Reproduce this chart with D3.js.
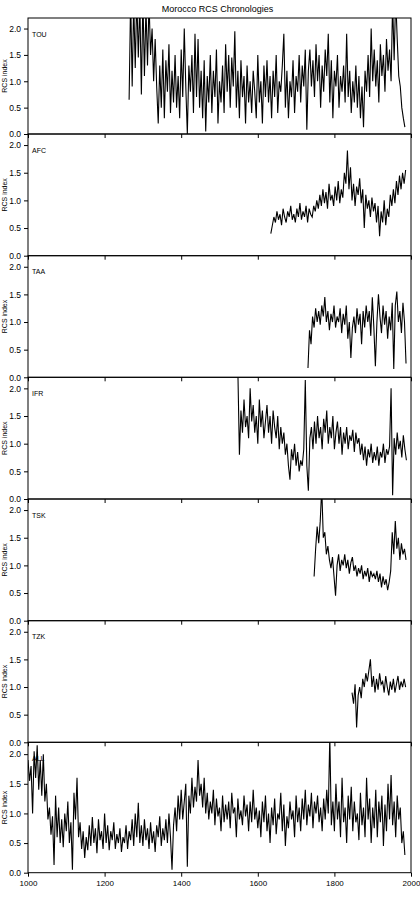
<!DOCTYPE html>
<html>
<head>
<meta charset="utf-8">
<script src="https://cdn.jsdelivr.net/npm/d3@7/dist/d3.min.js"></script>
<style>
  html, body { margin: 0; padding: 0; background: #fff; }
  svg { display: block; font-family: "Liberation Sans", Arial, sans-serif; }
</style>
</head>
<body>
<div id="chart"></div>
<script>
// Morocco RCS chronologies (4-year steps)
const siteNames = ['TOU', 'AFC', 'TAA', 'IFR', 'TSK', 'TZK', 'ALL'];
const startYears = [1264, 1634, 1731, 1548, 1747, 1846, 1000];
const yearStep = 4;
const xTicks = [1000, 1200, 1400, 1600, 1800, 2000];
const yTicks = [0, 0.5, 1.0, 1.5, 2.0];

const touValues = [
  0.65, 2.6, 0.9, 2.5, 1.25, 2.6, 1.45, 2.5, 0.75, 2.6,
  1.1, 2.4, 1.3, 2.5, 1.5, 2.0, 1.0, 1.8, 0.9, 0.2,
  1.3, 0.5, 1.6, 0.3, 1.4, 0.8, 1.7, 0.4, 1.2, 0.6,
  1.5, 0.5, 1.1, 0.3, 1.6, 0.7, 2.0, 0.9, 0.0, 1.3,
  0.8, 1.5, 0.4, 1.9, 0.7, 1.8, 0.5, 1.2, 0.3, 1.4,
  0.05, 1.1, 0.6, 1.5, 0.4, 1.2, 0.7, 1.6, 0.2, 1.0,
  0.6, 1.3, 0.4, 1.7, 0.8, 1.5, 0.5, 1.45, 0.9, 1.95,
  0.5, 1.2, 0.3, 1.4, 0.7, 1.1, 0.2, 1.3, 0.6, 1.0,
  0.4, 1.2, 0.8, 0.3, 1.5, 0.6, 1.0, 0.2, 1.3, 0.7,
  1.4, 0.6, 1.1, 0.3, 1.2, 0.7, 1.5, 0.4, 1.0, 0.8,
  1.3, 1.9, 0.5, 1.2, 0.3, 1.0, 0.7, 1.4, 0.4, 1.1,
  0.8, 1.5, 0.6, 1.3, 0.9, 1.6, 0.08, 1.2, 1.6, 0.9,
  1.4, 0.7, 1.7, 1.0, 1.5, 0.5, 1.3, 0.8, 1.6, 1.1,
  1.9, 0.6, 1.4, 0.3, 1.2, 0.9, 1.5, 0.5, 1.1, 0.8,
  1.3, 0.6, 1.9, 0.7, 1.2, 0.4, 1.0, 0.6, 1.3, 0.5,
  1.1, 0.3, 0.9, 0.13, 1.2, 0.8, 1.5, 0.7, 2.0, 1.0,
  1.6, 0.9, 1.4, 0.6, 1.7, 1.1, 1.5, 0.8, 1.8, 1.2,
  1.6, 1.0, 2.5, 1.4, 2.6, 1.8, 1.1, 0.9, 0.5, 0.3,
  0.13
];
const afcValues = [
  0.4, 0.55, 0.7, 0.6, 0.8, 0.65, 0.75, 0.55, 0.85, 0.7,
  0.6, 0.8, 0.7, 0.9, 0.65, 0.75, 0.6, 0.85, 0.7, 0.95,
  0.65, 0.8, 0.7, 0.9, 0.6, 0.85, 0.75, 0.7, 0.9, 0.8,
  1.0, 0.85, 1.1, 0.9, 1.2, 0.95, 1.15, 0.85, 1.3, 1.0,
  1.1, 0.9, 1.25, 1.0, 1.35, 0.95, 1.2, 1.05, 1.5, 1.3,
  1.9, 1.2, 1.6, 1.0, 1.3, 0.9, 1.25, 1.1, 1.4, 0.95,
  1.2, 0.5, 1.1, 0.85, 1.0, 0.7, 1.05, 0.8, 0.95, 0.6,
  0.9, 0.35, 0.8, 0.6, 1.0, 0.55, 0.85, 0.7, 1.1, 0.9,
  1.2, 0.95, 1.35, 1.1, 1.45, 1.2, 1.5, 1.3, 1.55
];
const taaValues = [
  0.17, 0.85, 0.6, 1.1, 0.9, 1.25, 1.0, 1.2, 0.95, 1.3,
  1.1, 1.45, 1.0, 1.2, 0.85, 1.15, 1.0, 1.3, 0.9, 1.1,
  1.0, 1.25, 0.8, 1.15, 0.95, 1.3, 0.7, 1.0, 0.35, 0.9,
  1.1, 0.8, 1.25, 0.95, 1.15, 0.6, 1.2, 0.9, 1.3, 1.0,
  1.2, 0.75, 1.45, 0.9, 0.2, 1.0, 1.5, 1.1, 0.8, 1.3,
  0.95, 1.2, 0.7, 1.1, 0.85, 1.35, 0.15, 1.3, 1.55, 1.0,
  1.2, 0.8, 1.35, 1.0, 0.25
];
const ifrValues = [
  2.3, 0.8, 1.6, 1.2, 1.8, 1.3, 1.5, 1.1, 2.0, 1.4,
  1.7, 1.2, 1.5, 1.0, 1.8, 1.3, 1.6, 1.1, 1.4, 1.7,
  1.2, 1.5, 1.0, 1.6, 1.3, 1.1, 1.5, 0.9, 1.3, 1.0,
  1.2, 0.8, 1.0, 0.6, 0.35, 0.9, 0.7, 1.0, 0.6, 0.85,
  0.5, 0.7, 0.6, 0.9, 2.15, 0.6, 0.15, 1.1, 1.3, 0.9,
  1.4, 1.0, 1.5, 1.1, 1.3, 0.9, 1.45, 1.2, 1.6, 1.0,
  1.3, 1.1, 1.5, 0.9, 1.2, 1.4, 1.0, 1.3, 0.8, 1.2,
  1.0, 1.3, 0.9, 1.15, 1.05, 1.25, 0.85, 1.2, 1.0, 1.1,
  0.8, 1.0, 0.7, 0.95, 0.6, 0.9, 0.75, 1.0, 0.65, 0.85,
  0.7, 0.95, 0.6, 0.85, 0.75, 1.0, 0.65, 0.9, 0.8, 0.95,
  2.0, 0.07, 1.1, 0.8, 1.2, 0.9, 1.05, 0.75, 1.15, 0.9,
  0.7
];
const tskValues = [
  0.8, 1.3, 1.7, 1.4, 1.8, 2.4, 1.5, 1.6, 1.2, 1.35,
  1.1, 0.95, 1.15, 0.8, 0.45, 1.0, 1.2, 0.9, 1.1, 1.0,
  1.2, 0.95, 1.1, 0.85, 1.05, 1.15, 0.9, 1.0, 0.8, 0.95,
  0.85, 1.0, 0.75, 0.9, 0.8, 0.95, 0.7, 0.9, 0.8, 0.85,
  0.75, 0.9, 0.7, 0.85, 0.6, 0.8, 0.65, 0.75, 0.55, 0.7,
  0.9, 1.6, 1.2, 1.8, 1.3, 1.5, 1.1, 1.4, 1.2, 1.3,
  1.1
];
const tzkValues = [
  0.9, 0.7, 1.05, 0.27, 0.85, 1.0, 0.8, 1.15, 1.0, 1.25,
  1.1, 1.3, 1.5, 1.0, 1.2, 0.9, 1.15, 0.95, 1.25, 1.05,
  1.1, 0.9, 1.2, 1.0, 0.85, 1.1, 0.95, 1.15, 0.9, 1.05,
  1.2, 0.95, 1.1, 1.0, 1.15, 1.0
];
const allValues = [
  1.9, 1.55, 1.8, 1.0, 2.05, 1.6, 2.15, 1.4, 1.9, 1.3,
  2.0, 1.2, 1.5, 0.9, 1.1, 0.64, 0.95, 0.13, 1.3, 0.6,
  1.1, 0.5, 0.9, 0.43, 1.0, 0.7, 1.2, 0.5, 0.85, 0.05,
  1.35, 0.9, 1.6, 0.6, 0.85, 0.4, 0.7, 0.25, 0.6, 0.38,
  0.8, 0.45, 0.94, 0.5, 0.75, 0.33, 0.9, 0.55, 0.7, 0.4,
  1.0, 0.5, 0.8, 0.38, 0.7, 0.55, 0.85, 0.4, 0.65, 0.5,
  0.75, 0.35, 0.6, 0.5, 0.8, 0.4, 0.7, 0.55, 0.9, 0.45,
  1.0, 0.6, 1.18, 0.5, 0.8, 0.45, 0.9, 0.55, 0.75, 0.4,
  0.85, 0.5, 0.7, 0.35, 0.8, 0.6, 0.95, 0.45, 0.75, 0.55,
  0.9, 0.5, 1.0, 0.6, 0.05, 0.8, 1.1, 0.7, 1.3, 0.9,
  1.4, 0.9, 1.2, 1.5, 0.1, 1.3, 1.0, 1.6, 1.1, 1.45,
  1.2, 1.9, 1.3, 1.5, 1.1, 1.6, 1.0, 1.35, 0.9, 1.2,
  1.0, 1.4, 0.8, 1.25, 0.95, 1.1, 0.7, 1.3, 0.85, 1.15,
  0.9, 1.2, 0.75, 1.35, 1.0, 1.1, 0.6, 1.25, 0.9, 1.05,
  0.8, 1.3, 0.95, 1.15, 0.7, 1.2, 0.85, 1.4, 0.9, 1.1,
  0.75, 1.05, 0.6, 1.2, 0.85, 1.3, 0.7, 1.0, 0.5, 1.1,
  0.8, 1.25, 0.65, 1.0, 0.9, 1.35, 0.7, 1.15, 0.45, 0.95,
  0.75, 1.2, 0.9, 1.05, 0.6, 1.3, 0.85, 1.1, 0.7, 1.25,
  0.9, 1.4, 0.8, 1.15, 0.95, 1.35, 0.75, 1.2, 1.0, 1.3,
  0.85, 1.1, 0.7, 1.25, 0.9, 1.4, 1.0, 2.3, 0.8, 1.2,
  0.7, 1.5, 0.9, 1.2, 0.6, 1.6, 0.85, 1.1, 0.5, 1.3,
  0.9, 1.45, 0.7, 1.2, 0.85, 1.0, 0.55, 1.35, 0.8, 1.1,
  0.6, 1.6, 0.9, 1.25, 0.5, 1.1, 0.75, 1.4, 0.6, 1.2,
  0.85, 1.3, 0.45, 1.15, 0.7, 1.5, 0.9, 1.65, 0.8, 1.2,
  0.6, 1.3, 0.9, 1.1, 0.5, 0.7, 0.3
];
const seriesValues = [touValues, afcValues, taaValues, ifrValues, tskValues, tzkValues, allValues];

const width = 420, height = 900;
const left = 28, right = 411;
const panelTops = [18, 134, 255.7, 377.3, 499, 620.7, 742.3];
const panelBottom = 872.7;

const svg = d3.select('#chart').append('svg')
  .attr('width', width)
  .attr('height', height);

const x = d3.scaleLinear().domain([1000, 2000]).range([left, right]);

svg.append('text')
  .attr('x', (left + right) / 2 - 2)
  .attr('y', 12)
  .attr('text-anchor', 'middle')
  .attr('font-size', '9px')
  .text('Morocco RCS Chronologies');

siteNames.forEach((name, i) => {
  const top = panelTops[i];
  const bottom = i < siteNames.length - 1 ? panelTops[i + 1] : panelBottom;
  const y = d3.scaleLinear().domain([0, 2.2]).range([bottom, top]);
  const data = seriesValues[i].map((v, k) => ({ year: startYears[i] + k * yearStep, value: v }));

  const g = svg.append('g');

  g.append('clipPath')
    .attr('id', 'clip' + i)
    .append('rect')
    .attr('x', left)
    .attr('y', top)
    .attr('width', right - left)
    .attr('height', bottom - top);

  const line = d3.line()
    .x(d => x(d.year))
    .y(d => y(d.value));

  g.append('path')
    .datum(data)
    .attr('clip-path', `url(#clip${i})`)
    .attr('fill', 'none')
    .attr('stroke', '#000')
    .attr('stroke-width', 1.1)
    .attr('stroke-linejoin', 'miter')
    .attr('d', line);

  g.append('rect')
    .attr('x', left)
    .attr('y', top)
    .attr('width', right - left)
    .attr('height', bottom - top)
    .attr('fill', 'none')
    .attr('stroke', '#000')
    .attr('stroke-width', 1);

  const yAxis = g.append('g')
    .attr('transform', `translate(${left},0)`)
    .call(d3.axisLeft(y).tickValues(yTicks).tickFormat(d3.format('.1f')).tickSize(4).tickPadding(3));
  yAxis.select('.domain').remove();
  yAxis.selectAll('text').attr('font-size', '8.5px').attr('font-family', 'Liberation Sans, sans-serif');

  const last = i === siteNames.length - 1;
  const xAxis = g.append('g')
    .attr('transform', `translate(0,${bottom})`)
    .call(d3.axisBottom(x).tickValues(xTicks).tickSize(4).tickPadding(4)
      .tickFormat(last ? d3.format('d') : () => ''));
  xAxis.select('.domain').remove();
  xAxis.selectAll('text').attr('font-size', '8px').attr('font-family', 'Liberation Sans, sans-serif');

  g.append('text')
    .attr('x', 32)
    .attr('y', top + 18.5)
    .attr('font-size', '7px')
    .text(name);

  g.append('text')
    .attr('transform', `translate(7,${(top + bottom) / 2}) rotate(-90)`)
    .attr('text-anchor', 'middle')
    .attr('font-size', '7px')
    .text('RCS index');
});
</script>
</body>
</html>
